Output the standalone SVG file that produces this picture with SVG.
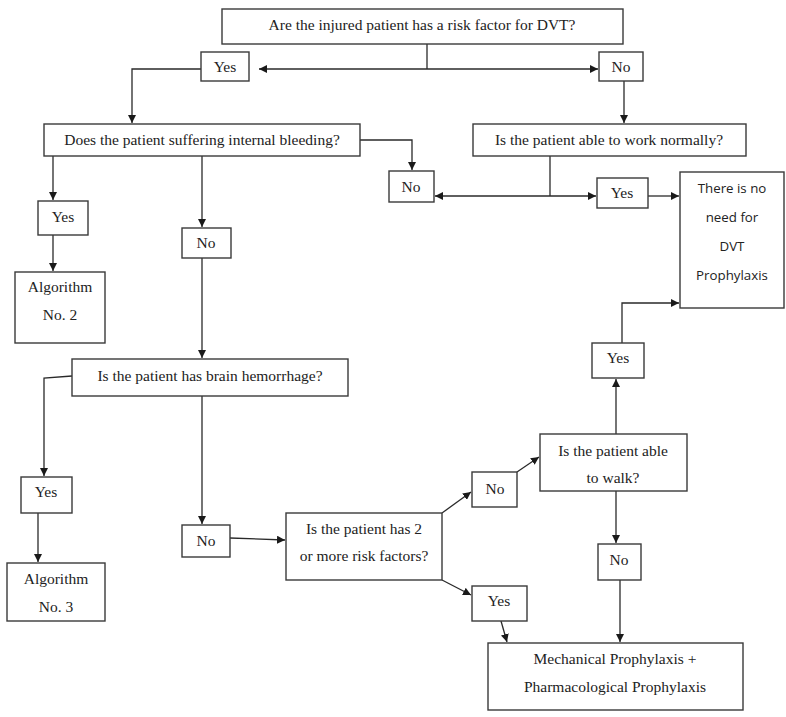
<svg xmlns="http://www.w3.org/2000/svg" width="786" height="717" viewBox="0 0 786 717">
<defs>
<style>
.b{fill:#fff;stroke:#3a3a3a;stroke-width:1.4}
.t{font-family:"Liberation Serif","Times New Roman",serif;font-size:15.5px;fill:#222;text-anchor:middle}
.s{font-family:"Open Sans","Liberation Sans",sans-serif;font-size:13.3px;fill:#222;text-anchor:middle}
.c path{fill:none;stroke:#2a2a2a;stroke-width:1.3}
</style>
<marker id="a" viewBox="0 0 10 10" refX="10" refY="5" markerWidth="8" markerHeight="8" markerUnits="userSpaceOnUse" orient="auto">
<path d="M0,0 L10,5 L0,10 z" fill="#1a1a1a"/>
</marker>
</defs>
<rect width="786" height="717" fill="#fff"/>
<g class="c">
<path d="M427,44 V69"/>
<path d="M427,69 H259" marker-end="url(#a)"/>
<path d="M427,69 H598" marker-end="url(#a)"/>
<path d="M201,69 H132 V123" marker-end="url(#a)"/>
<path d="M624,81 V123" marker-end="url(#a)"/>
<path d="M360,140 H412 V170" marker-end="url(#a)"/>
<path d="M550,156 V196"/>
<path d="M550,196 H435" marker-end="url(#a)"/>
<path d="M550,196 H596" marker-end="url(#a)"/>
<path d="M648,196 H679" marker-end="url(#a)"/>
<path d="M53,156 V200" marker-end="url(#a)"/>
<path d="M53,235 V271" marker-end="url(#a)"/>
<path d="M202,156 V227" marker-end="url(#a)"/>
<path d="M202,258 V358" marker-end="url(#a)"/>
<path d="M72,376 L44,378 V476" marker-end="url(#a)"/>
<path d="M38,513 V562" marker-end="url(#a)"/>
<path d="M202,396 V524" marker-end="url(#a)"/>
<path d="M230,538 L285,540" marker-end="url(#a)"/>
<path d="M442,513 L471,492" marker-end="url(#a)"/>
<path d="M517,472 L539,457" marker-end="url(#a)"/>
<path d="M442,580 L471,595" marker-end="url(#a)"/>
<path d="M501,621 L507,642" marker-end="url(#a)"/>
<path d="M616,434 V379" marker-end="url(#a)"/>
<path d="M622,343 V303 H679" marker-end="url(#a)"/>
<path d="M616,491 V543" marker-end="url(#a)"/>
<path d="M620,580 V642" marker-end="url(#a)"/>
</g>
<g id="n-risk"><rect class="b" x="222" y="9" width="401" height="35"/><text class="t" x="422" y="30">Are the injured patient has a risk factor for DVT?</text></g>
<g id="n-yes1"><rect class="b" x="201" y="52" width="48" height="29"/><text class="t" x="225" y="72">Yes</text></g>
<g id="n-no1"><rect class="b" x="599" y="52" width="44" height="29"/><text class="t" x="621" y="72">No</text></g>
<g id="n-bleed"><rect class="b" x="44" y="124" width="316" height="32"/><text class="t" x="202" y="145">Does the patient suffering internal bleeding?</text></g>
<g id="n-work"><rect class="b" x="473" y="124" width="273" height="32"/><text class="t" x="609" y="145">Is the patient able to work normally?</text></g>
<g id="n-no2"><rect class="b" x="389" y="171" width="45" height="31"/><text class="t" x="411" y="192">No</text></g>
<g id="n-yes2"><rect class="b" x="597" y="178" width="51" height="30"/><text class="t" x="622" y="198">Yes</text></g>
<g id="n-noneed"><rect class="b" x="680" y="172" width="104" height="136"/><text class="s" x="732" y="193">There is no</text><text class="s" x="732" y="222">need for</text><text class="s" x="732" y="251">DVT</text><text class="s" x="732" y="280">Prophylaxis</text></g>
<g id="n-yes3"><rect class="b" x="38" y="201" width="50" height="34"/><text class="t" x="63" y="222">Yes</text></g>
<g id="n-alg2"><rect class="b" x="15" y="272" width="90" height="71"/><text class="t" x="60" y="292">Algorithm</text><text class="t" x="60" y="320">No. 2</text></g>
<g id="n-no3"><rect class="b" x="182" y="228" width="49" height="30"/><text class="t" x="206" y="248">No</text></g>
<g id="n-brain"><rect class="b" x="72" y="359" width="276" height="37"/><text class="t" x="210" y="381">Is the patient has brain hemorrhage?</text></g>
<g id="n-yes4"><rect class="b" x="21" y="477" width="51" height="36"/><text class="t" x="46" y="497">Yes</text></g>
<g id="n-alg3"><rect class="b" x="7" y="563" width="98" height="58"/><text class="t" x="56" y="584">Algorithm</text><text class="t" x="56" y="612">No. 3</text></g>
<g id="n-no4"><rect class="b" x="182" y="525" width="48" height="32"/><text class="t" x="206" y="546">No</text></g>
<g id="n-two"><rect class="b" x="286" y="513" width="156" height="67"/><text class="t" x="364" y="534">Is the patient has 2</text><text class="t" x="364" y="561">or more risk factors?</text></g>
<g id="n-no5"><rect class="b" x="472" y="472" width="45" height="35"/><text class="t" x="495" y="494">No</text></g>
<g id="n-yes5"><rect class="b" x="472" y="586" width="55" height="35"/><text class="t" x="499" y="606">Yes</text></g>
<g id="n-walk"><rect class="b" x="540" y="434" width="147" height="57"/><text class="t" x="613" y="456">Is the patient able</text><text class="t" x="613" y="483">to walk?</text></g>
<g id="n-yes6"><rect class="b" x="592" y="343" width="52" height="35"/><text class="t" x="618" y="363">Yes</text></g>
<g id="n-no6"><rect class="b" x="598" y="544" width="43" height="36"/><text class="t" x="619" y="565">No</text></g>
<g id="n-mech"><rect class="b" x="488" y="643" width="255" height="67"/><text class="t" x="615" y="664">Mechanical Prophylaxis +</text><text class="t" x="615" y="692">Pharmacological Prophylaxis</text></g>
</svg>
